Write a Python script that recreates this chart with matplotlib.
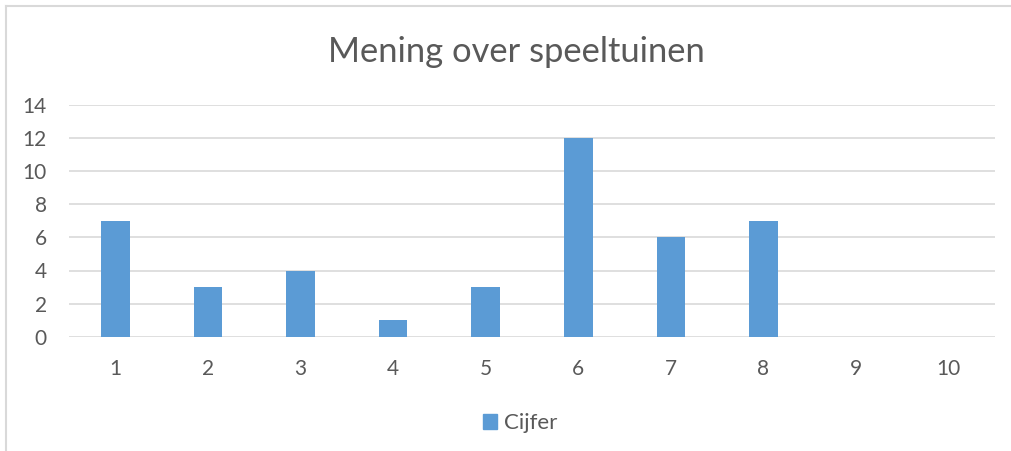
import matplotlib
matplotlib.use("Agg")
import matplotlib.pyplot as plt
from matplotlib.lines import Line2D
from matplotlib.patches import Patch

categories = ["1", "2", "3", "4", "5", "6", "7", "8", "9", "10"]
values = [7, 3, 4, 1, 3, 12, 6, 7, 0, 0]
yticks = [0, 2, 4, 6, 8, 10, 12, 14]
series_name = "Cijfer"
title = "Mening over speeltuinen"

plt.rcParams['font.family'] = ['Lato', 'DejaVu Sans']
W, H = 1011, 451
fig = plt.figure(figsize=(W/100, H/100), dpi=100)
fig.patch.set_facecolor("white")

# chart border (top and left visible)
fig.add_artist(Line2D([6/W, 6/W], [0, 1 - 5.5/H], transform=fig.transFigure, color="#D9D9D9", lw=1.5))
fig.add_artist(Line2D([6/W, 1], [1 - 5.5/H, 1 - 5.5/H], transform=fig.transFigure, color="#D9D9D9", lw=1.5))

left, right = 69/W, 995/W
bottom, top = 1 - 336.7/H, 1 - 105/H
ax = fig.add_axes([left, bottom, right - left, top - bottom])
x = list(range(len(categories)))
ax.bar(x, values, width=0.31, color="#5B9BD5", zorder=3)
ax.set_xlim(-0.5, len(categories) - 0.5)
ax.set_ylim(0, 14)
ax.set_yticks(yticks)
ax.set_xticks(x)
ax.set_xticklabels(categories)
for s in ax.spines.values():
    s.set_visible(False)
ax.grid(axis="y", color="#D9D9D9", lw=1.2, zorder=0)
ax.tick_params(axis="both", length=0, labelsize=15, labelcolor="#595959")
ax.tick_params(axis="y", pad=16)
ax.tick_params(axis="x", pad=16)
for lab in ax.get_yticklabels():
    lab.set_horizontalalignment("right")

fig.text(516/W, 1 - 52/H, title, ha="center", va="center", fontsize=24.8, color="#595959")

leg = fig.legend(handles=[Patch(color="#5B9BD5", label=series_name)], loc="center",
                 bbox_to_anchor=(520/W, 1 - 423/H), frameon=False, fontsize=16,
                 handlelength=0.65, handleheight=0.65, handletextpad=0.3)
for t in leg.get_texts():
    t.set_color("#595959")

fig.savefig("out.png", dpi=100, facecolor="white")
